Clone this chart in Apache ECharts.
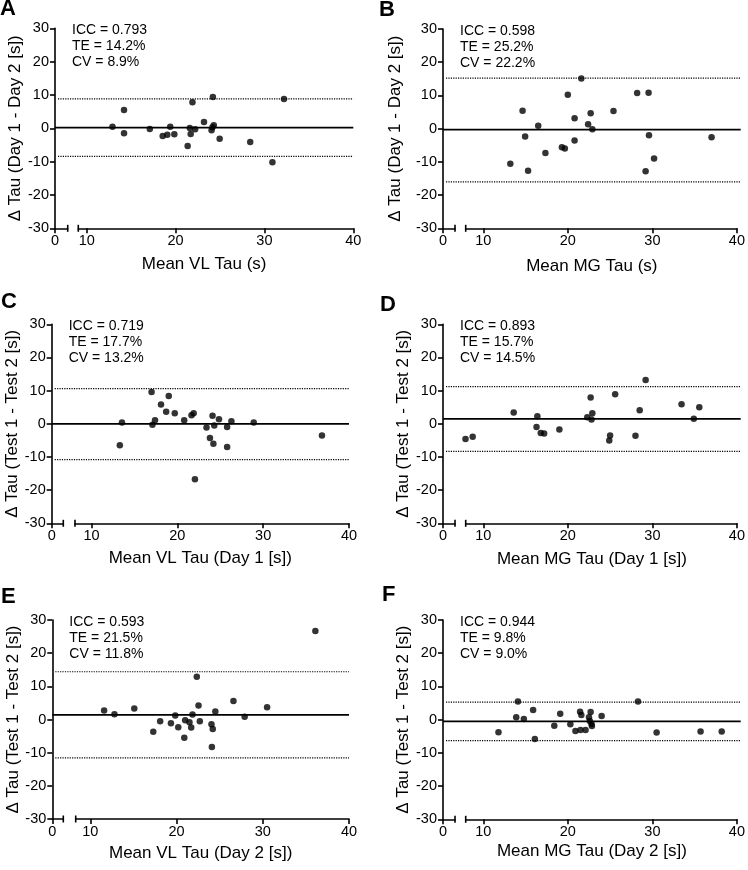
<!doctype html>
<html>
    <head>
        <meta charset="utf-8">
        <title>Bland-Altman Tau</title>
        <style>
            html, body { margin: 0; padding: 0; background: #fff; }
            #main { width: 748px; height: 870px; }
        </style>
    </head>
    <body>
        <div id="main"></div>
        <script src="https://cdn.jsdelivr.net/npm/echarts@6/dist/echarts.min.js"></script>
        <script>
            // --- data ---
            var letters = ['A', 'B', 'C', 'D', 'E', 'F'];
            var xTitles = ['Mean VL Tau (s)', 'Mean MG Tau (s)', 'Mean VL Tau (Day 1 [s])',
                'Mean MG Tau (Day 1 [s])', 'Mean VL Tau (Day 2 [s])', 'Mean MG Tau (Day 2 [s])'];
            var yTitles = ['Δ Tau (Day 1 - Day 2 [s])', 'Δ Tau (Day 1 - Day 2 [s])', 'Δ Tau (Test 1 - Test 2 [s])',
                'Δ Tau (Test 1 - Test 2 [s])', 'Δ Tau (Test 1 - Test 2 [s])', 'Δ Tau (Test 1 - Test 2 [s])'];
            var iccText = ['ICC = 0.793', 'ICC = 0.598', 'ICC = 0.719', 'ICC = 0.893', 'ICC = 0.593', 'ICC = 0.944'];
            var teText = ['TE = 14.2%', 'TE = 25.2%', 'TE = 17.7%', 'TE = 15.7%', 'TE = 21.5%', 'TE = 9.8%'];
            var cvText = ['CV = 8.9%', 'CV = 22.2%', 'CV = 13.2%', 'CV = 14.5%', 'CV = 11.8%', 'CV = 9.0%'];

            var meanDiff = [0.2, -0.3, 0.0, 1.5, 1.4, -0.5];
            var upperLoA = [8.8, 15.2, 10.6, 11.2, 14.4, 5.3];
            var lowerLoA = [-8.4, -16.0, -10.8, -8.3, -11.6, -6.3];

            var yTicks = [-30, 30, 10];          // min, max, interval
            var xTicks = [10, 20, 30, 40];
            var stubTicks = [0];

            var pointsA = [[12.9, 0.5], [14.2, 5.5], [14.2, -1.5], [17.1, -0.2], [18.55, -2.3], [19.07, -1.9],
                [19.4, 0.5], [19.86, -1.8], [21.36, -5.3], [21.6, 0.1], [21.7, -1.7], [21.9, 7.8], [22.2, -0.3],
                [23.2, 1.9], [24.05, -0.6], [24.15, 0.3], [24.3, 0.9], [24.2, 9.4], [24.96, -3.1], [28.4, -4.1],
                [30.9, -10.2], [32.2, 8.8]];
            var pointsB = [[13.2, -10.6], [14.65, 5.4], [14.95, -2.4], [15.3, -12.7], [16.5, 0.9], [17.35, -7.3],
                [19.3, -5.6], [19.65, -6.0], [20.0, 10.2], [20.8, 3.1], [20.8, -3.6], [21.6, 15.1], [22.4, 1.3],
                [22.7, 4.6], [22.9, -0.2], [25.4, 5.3], [28.2, 10.7], [29.2, -12.8], [29.55, 10.8], [29.6, -2.0],
                [30.2, -9.0], [37.0, -2.6]];
            var pointsC = [[13.3, -6.5], [13.55, 0.4], [17.0, 9.6], [17.1, -0.3], [17.4, 1.1], [18.1, 5.8],
                [18.7, 3.6], [19.0, 8.4], [19.7, 3.2], [20.8, 1.1], [21.65, 2.6], [21.9, 3.2], [22.05, -16.7],
                [23.4, -1.1], [23.8, -4.3], [24.1, 2.4], [24.2, -6.0], [24.3, -0.5], [24.85, 1.4], [25.8, -1.0],
                [25.8, -7.0], [26.3, 0.8], [28.9, 0.4], [36.85, -3.5]];
            var pointsD = [[7.9, -4.6], [8.75, -3.9], [13.6, 3.4], [16.3, -1.0], [16.4, 2.3], [16.8, -2.8],
                [17.2, -2.9], [19.0, -1.7], [22.3, 2.0], [22.7, 7.9], [22.8, 1.3], [22.9, 3.2], [24.9, -5.0],
                [25.0, -3.5], [25.6, 8.9], [28.0, -3.6], [28.5, 4.1], [29.2, 13.2], [33.45, 5.9], [34.9, 1.5],
                [35.55, 5.0]];
            var pointsE = [[11.6, 2.7], [12.8, 1.6], [15.1, 3.3], [17.3, -3.7], [18.1, -0.5], [19.35, -1.1],
                [19.85, 1.2], [20.2, -2.3], [20.9, -5.5], [21.0, -0.2], [21.5, -0.8], [21.7, -2.4], [21.85, 1.5],
                [22.35, 12.9], [22.55, 4.2], [22.7, -0.5], [24.05, -1.4], [24.1, -8.3], [24.2, -2.9], [24.5, 2.4],
                [26.6, 5.6], [27.9, 0.8], [30.5, 3.7], [36.1, 26.7]];
            var pointsF = [[11.8, -3.8], [13.9, 0.7], [14.1, 5.5], [14.8, 0.2], [15.9, 2.9], [16.1, -5.8],
                [18.4, -1.8], [19.1, 1.8], [20.3, -1.4], [20.9, -3.4], [21.45, 2.4], [21.5, -3.1], [21.6, 1.4],
                [22.1, -3.1], [22.5, 0.7], [22.6, -0.4], [22.7, 2.3], [22.8, -1.3], [22.85, -1.9], [24.0, 1.1],
                [28.3, 5.5], [30.5, -3.9], [35.7, -3.6], [38.2, -3.6]];
            var allPoints = [pointsA, pointsB, pointsC, pointsD, pointsE, pointsF];

            // --- panel layout (pixels) ---
            // axisX: y axis line, x10/x40: pixel of 10 and 40 on the x axis,
            // stubEnd / segStart: ends of the broken x axis
            var layout = [
                {axisX: 55, x10: 86.7, x40: 353.3, top: 28.3, bottom: 228.3, stubEnd: 67.7, segStart: 78.3},
                {axisX: 443, x10: 483.5, x40: 740.7, top: 29, bottom: 228.3, stubEnd: 455, segStart: 465.7},
                {axisX: 51.7, x10: 91.5, x40: 349, top: 324.3, bottom: 523.3, stubEnd: 63.3, segStart: 75},
                {axisX: 443, x10: 483.5, x40: 740.7, top: 324.3, bottom: 523.3, stubEnd: 455, segStart: 465.7},
                {axisX: 52.3, x10: 90.3, x40: 349, top: 620, bottom: 819, stubEnd: 63.3, segStart: 75.7},
                {axisX: 443, x10: 483.5, x40: 740.7, top: 620, bottom: 819.3, stubEnd: 455, segStart: 465.7}
            ];
            var xNameGap = [28, 30, 26.5, 28, 26, 24];
            var yNameGap = [31.5, 39, 26.5, 27.5, 27, 27];
            var letterPos = [[0, -2], [379, -1.5], [1, 290.5], [380, 293.5], [1, 586], [382, 583.5]];

            var FONT = '"Liberation Sans", Arial, Helvetica, sans-serif';
            var AXIS_LINE = {show: true, onZero: false, lineStyle: {color: '#000', width: 1.6}};

            var grids = [], xAxes = [], yAxes = [], series = [], titles = [];

            letters.forEach(function (letter, i) {
                var L = layout[i];
                var w = L.x40 - L.axisX;
                var h = L.bottom - L.top;
                var pxPerUnit = (L.x40 - L.x10) / 30;
                var segMin = 10 - (L.x10 - L.segStart) / pxPerUnit;
                var g = i * 3;

                // full-width grid: y axis, axis names, mean / limit lines
                grids.push({left: L.axisX, top: L.top, width: w, height: h, containLabel: false});
                // stub with the 0 tick
                grids.push({left: L.axisX, top: L.top, width: L.stubEnd - L.axisX, height: h});
                // main segment of the broken x axis
                grids.push({left: L.segStart, top: L.top, width: L.x40 - L.segStart, height: h});

                xAxes.push({
                    gridIndex: g, type: 'value', min: 0, max: 1,
                    name: xTitles[i], nameLocation: 'middle', nameGap: xNameGap[i],
                    nameTextStyle: {fontFamily: FONT, fontSize: 17, color: '#000'},
                    axisLine: {show: false}, axisTick: {show: false}, axisLabel: {show: false},
                    splitLine: {show: false}
                });
                xAxes.push({
                    gridIndex: g + 1, type: 'value', min: 0, max: 1,
                    axisLine: Object.assign({symbol: ['none', 'rect'], symbolSize: [7, 1.6]}, AXIS_LINE),
                    axisTick: {show: true, length: 5, customValues: stubTicks, lineStyle: {color: '#000', width: 1.6}},
                    axisLabel: {show: true, customValues: stubTicks, margin: 5, color: '#000',
                        fontFamily: FONT, fontSize: 14.5},
                    splitLine: {show: false}
                });
                xAxes.push({
                    gridIndex: g + 2, type: 'value', min: segMin, max: 40,
                    axisLine: Object.assign({symbol: ['rect', 'none'], symbolSize: [7, 1.6]}, AXIS_LINE),
                    axisTick: {show: true, length: 5, customValues: xTicks, lineStyle: {color: '#000', width: 1.6}},
                    axisLabel: {show: true, customValues: xTicks, margin: 5, color: '#000',
                        fontFamily: FONT, fontSize: 14.5},
                    splitLine: {show: false}
                });

                yAxes.push({
                    gridIndex: g, type: 'value', min: yTicks[0], max: yTicks[1], interval: yTicks[2],
                    name: yTitles[i], nameLocation: 'middle', nameGap: yNameGap[i],
                    nameTextStyle: {fontFamily: FONT, fontSize: 17, color: '#000'},
                    axisLine: AXIS_LINE,
                    axisTick: {show: true, length: 5, lineStyle: {color: '#000', width: 1.6}},
                    axisLabel: {margin: 6, color: '#000', fontFamily: FONT, fontSize: 14.5},
                    splitLine: {show: false}
                });
                yAxes.push({gridIndex: g + 1, type: 'value', min: yTicks[0], max: yTicks[1], show: false});
                yAxes.push({gridIndex: g + 2, type: 'value', min: yTicks[0], max: yTicks[1], show: false});

                // mean difference and limits of agreement
                series.push({
                    type: 'line', xAxisIndex: g, yAxisIndex: g, symbol: 'none', silent: true,
                    data: [[0, meanDiff[i]], [1, meanDiff[i]]],
                    lineStyle: {color: '#000', width: 1.8}
                });
                [upperLoA[i], lowerLoA[i]].forEach(function (v) {
                    series.push({
                        type: 'line', xAxisIndex: g, yAxisIndex: g, symbol: 'none', silent: true,
                        data: [[0.01, v], [1, v]],
                        lineStyle: {color: '#000', width: 1.2, type: [1.2, 1.2]}
                    });
                });
                series.push({
                    type: 'scatter', xAxisIndex: g + 2, yAxisIndex: g + 2, clip: false,
                    data: allPoints[i], symbolSize: 6.5,
                    itemStyle: {color: '#000'}, z: 5
                });

                titles.push({
                    text: letter, left: letterPos[i][0], top: letterPos[i][1], padding: 0,
                    textStyle: {fontFamily: FONT, fontSize: 22, fontWeight: 'bold', color: '#000'}
                });
                titles.push({
                    text: [iccText[i], teText[i], cvText[i]].join('\n'),
                    left: L.axisX + 17, top: L.top - 6, padding: 0,
                    textStyle: {fontFamily: FONT, fontSize: 14, fontWeight: 'normal', color: '#000', lineHeight: 16}
                });
            });

            var chart = echarts.init(document.getElementById('main'));
            chart.setOption({
                animation: false,
                backgroundColor: '#fff',
                title: titles,
                grid: grids,
                xAxis: xAxes,
                yAxis: yAxes,
                series: series
            });

            window.addEventListener('resize', function () {
                chart.resize();
            });
        </script>
    </body>
</html>
